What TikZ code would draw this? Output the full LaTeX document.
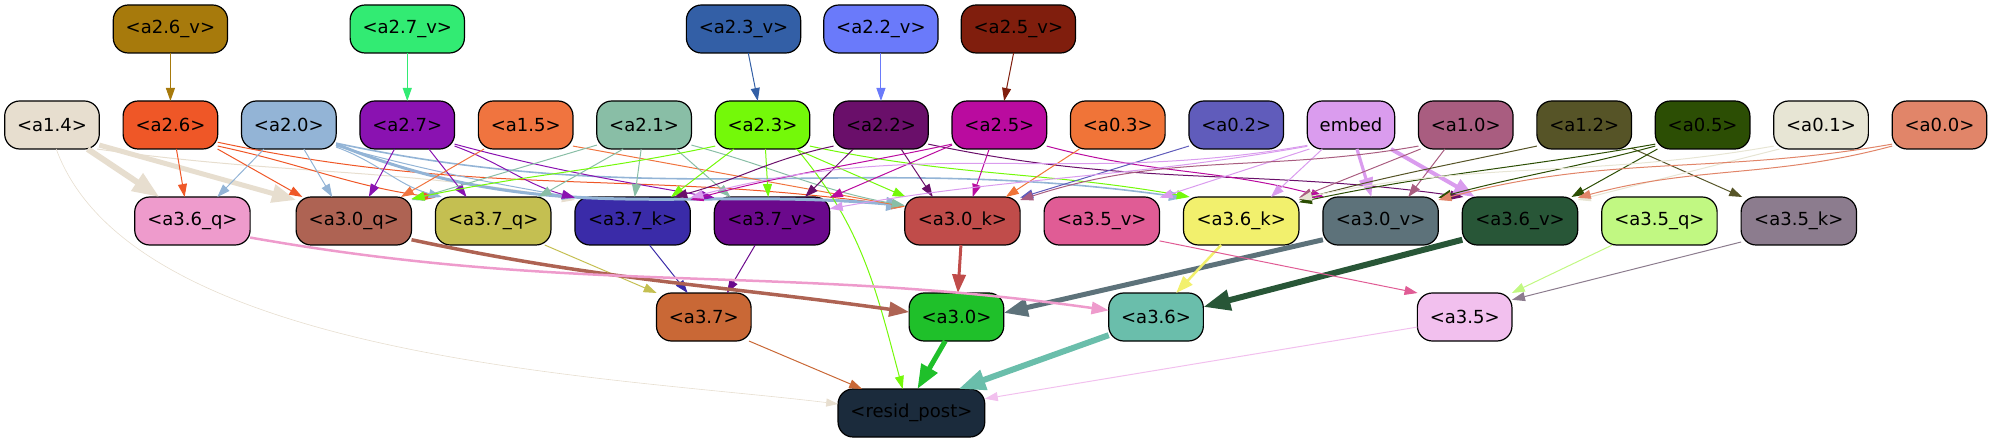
\documentclass[tikz,border=0pt]{standalone}
\usepackage{fontspec}
\setmainfont{DejaVu Sans}
\usepackage{tikz}
\usetikzlibrary{arrows.meta,positioning}

\definecolor{ca26v}{HTML}{A77A0C}
\definecolor{ca27v}{HTML}{32EB73}
\definecolor{ca23v}{HTML}{335FA6}
\definecolor{ca22v}{HTML}{6A7AFA}
\definecolor{ca25v}{HTML}{801E0D}
\definecolor{ca14}{HTML}{E7DECF}
\definecolor{ca26}{HTML}{EF5727}
\definecolor{ca20}{HTML}{93B4D6}
\definecolor{ca27}{HTML}{8A12B1}
\definecolor{ca15}{HTML}{F0743F}
\definecolor{ca21}{HTML}{89BEA6}
\definecolor{ca23}{HTML}{74F909}
\definecolor{ca22}{HTML}{6A0F6A}
\definecolor{ca25}{HTML}{BA0B9F}
\definecolor{ca03}{HTML}{F07438}
\definecolor{ca02}{HTML}{605CBB}
\definecolor{cemb}{HTML}{DA9CEE}
\definecolor{ca10}{HTML}{A95D80}
\definecolor{ca12}{HTML}{565427}
\definecolor{ca05}{HTML}{2C4E04}
\definecolor{ca01}{HTML}{E7E5D4}
\definecolor{ca00}{HTML}{E18569}
\definecolor{ca36q}{HTML}{EE9BCC}
\definecolor{ca30q}{HTML}{AE6353}
\definecolor{ca37q}{HTML}{C4BF51}
\definecolor{ca37k}{HTML}{3A2BA8}
\definecolor{ca37v}{HTML}{6B098C}
\definecolor{ca30k}{HTML}{C04C4A}
\definecolor{ca35v}{HTML}{E05C95}
\definecolor{ca36k}{HTML}{F2F06D}
\definecolor{ca30v}{HTML}{5D727A}
\definecolor{ca36v}{HTML}{285637}
\definecolor{ca35q}{HTML}{C1F882}
\definecolor{ca35k}{HTML}{8C7C8E}
\definecolor{ca37}{HTML}{C96836}
\definecolor{ca30}{HTML}{1FC02A}
\definecolor{ca36}{HTML}{6ABEAB}
\definecolor{ca35}{HTML}{F2C0EE}
\definecolor{cres}{HTML}{1B2B3C}

\begin{document}
\begin{tikzpicture}[->, >={Triangle[length=5.1pt 2.8,width=3.4pt 2.2]}, x=0.5pt, y=-0.5pt, line width=0.5pt]
    \tikzstyle{blk}=[draw=black, line width=0.6pt, outer sep=0pt, rounded corners=7.5pt, minimum height=24pt, inner xsep=6.2pt, text=black, font=\fontsize{9}{10}\selectfont]
    \tikzstyle{wblk}=[blk, minimum width=57.7pt]
    \useasboundingbox (0,0) rectangle (1996,443);
    % row 2
    \node[blk, fill=ca14]  (a14) at (52,125)           {<a1.4>};
    \node[blk, fill=ca26]  (a26) [right=11.9pt of a14]   {<a2.6>};
    \node[blk, fill=ca20]  (a20) [right=11.9pt of a26]   {<a2.0>};
    \node[blk, fill=ca27]  (a27) [right=11.9pt of a20]   {<a2.7>};
    \node[blk, fill=ca15]  (a15) [right=11.9pt of a27]   {<a1.5>};
    \node[blk, fill=ca21]  (a21) [right=11.9pt of a15]   {<a2.1>};
    \node[blk, fill=ca23]  (a23) [right=11.9pt of a21]   {<a2.3>};
    \node[blk, fill=ca22]  (a22) [right=11.9pt of a23]   {<a2.2>};
    \node[blk, fill=ca25]  (a25) [right=11.9pt of a22]   {<a2.5>};
    \node[blk, fill=ca03]  (a03) [right=11.9pt of a25]   {<a0.3>};
    \node[blk, fill=ca02]  (a02) [right=11.9pt of a03]   {<a0.2>};
    \node[blk, fill=cemb]  (emb) [right=11.9pt of a02]   {embed};
    \node[blk, fill=ca10]  (a10) [right=11.9pt of emb]   {<a1.0>};
    \node[blk, fill=ca12]  (a12) [right=11.9pt of a10]   {<a1.2>};
    \node[blk, fill=ca05]  (a05) [right=11.9pt of a12]   {<a0.5>};
    \node[blk, fill=ca01]  (a01) [right=11.9pt of a05]   {<a0.1>};
    \node[blk, fill=ca00]  (a00) [right=11.9pt of a01]   {<a0.0>};
    % row 1
    \node[blk, fill=ca26v] (a26v) [above=24pt of a26]               {<a2.6\_v>};
    \node[blk, fill=ca27v] (a27v) [above=24pt of a27]               {<a2.7\_v>};
    \node[blk, fill=ca23v] (a23v) [above=24pt of a23, xshift=-9.5pt] {<a2.3\_v>};
    \node[blk, fill=ca22v] (a22v) [above=24pt of a22]               {<a2.2\_v>};
    \node[blk, fill=ca25v] (a25v) [above=24pt of a25, xshift=9.5pt]  {<a2.5\_v>};
    % row 3
    \node[wblk, fill=ca36q] (a36q) [below=24pt of a26, xshift=11pt] {<a3.6\_q>};
    \node[wblk, fill=ca30q] (a30q) [right=23pt of a36q]   {<a3.0\_q>};
    \node[wblk, fill=ca37q] (a37q) [right=12pt of a30q]   {<a3.7\_q>};
    \node[wblk, fill=ca37k] (a37k) [right=12pt of a37q]   {<a3.7\_k>};
    \node[wblk, fill=ca37v] (a37v) [right=12pt of a37k]   {<a3.7\_v>};
    \node[wblk, fill=ca30k] (a30k) [right=37.5pt of a37v] {<a3.0\_k>};
    \node[wblk, fill=ca35v] (a35v) [right=12pt of a30k]   {<a3.5\_v>};
    \node[wblk, fill=ca36k] (a36k) [right=12pt of a35v]   {<a3.6\_k>};
    \node[wblk, fill=ca30v] (a30v) [right=12pt of a36k]   {<a3.0\_v>};
    \node[wblk, fill=ca36v] (a36v) [right=12pt of a30v]   {<a3.6\_v>};
    \node[wblk, fill=ca35q] (a35q) [right=12pt of a36v]   {<a3.5\_q>};
    \node[wblk, fill=ca35k] (a35k) [right=12pt of a35q]   {<a3.5\_k>};
    % row 4
    \node[blk, fill=ca30] (a30) [below=24pt of a30k, xshift=-3pt] {<a3.0>};
    \node[blk, fill=ca37] (a37) [left=79pt of a30]    {<a3.7>};
    \node[blk, fill=ca36] (a36) [right=52.5pt of a30] {<a3.6>};
    \node[blk, fill=ca35] (a35) [right=107pt of a36]  {<a3.5>};
    % output
    \node[blk, fill=cres] (res) [below=24pt of a30, xshift=-22.5pt] {<resid\_post>};

    \path
    (a26v) edge[ca26v] (a26)
    (a27v) edge[ca27v] (a27)
    (a23v) edge[ca23v] (a23)
    (a22v) edge[ca22v] (a22)
    (a25v) edge[ca25v] (a25)
    % a1.4
    (a14.-34) edge[ca14, line width=3pt] (a36q.144)
    (a14.-23) edge[ca14, line width=2.5pt] (a30q.160)
    (a14.-28) edge[ca14, out=-8, in=170] (a37k.160)
    (a14.-80) edge[ca14, line width=0.3pt, out=-70, in=173, looseness=0.7] (res.173)
    % a2.6
    (a26.-76) edge[ca26] (a36q.108)
    (a26.-27) edge[ca26] (a30q.155)
    (a26.-24) edge[ca26, out=-12, in=172] (a37q.158)
    (a26.-20) edge[ca26, out=-12, in=172] (a30k.166)
    % a2.0
    (a20.-136) edge[ca20] (a36q.44)
    (a20.-58) edge[ca20] (a30q.132)
    (a20.-25) edge[ca20, out=-20, in=165] (a37q.155)
    (a20.-24) edge[ca20, out=-15, in=170] (a37k.158)
    (a20.-22) edge[ca20, line width=1.5pt, out=-22, in=175] (a30k.165)
    (a20.-21) edge[ca20, line width=0.8pt, out=-12, in=172] (a36k.158)
    % a2.7
    (a27.-118) edge[ca27] (a30q.58)
    (a27.-48) edge[ca27] (a37q.138)
    (a27.-24) edge[ca27, out=-20, in=165] (a37k.158)
    (a27.-22) edge[ca27, out=-15, in=170] (a37v.158)
    % a1.5
    (a15.-150) edge[ca15] (a30q.27)
    (a15.-24) edge[ca15] (a30k.166)
    % a2.1
    (a21.-157) edge[ca21] (a30q.20)
    (a21.-131) edge[ca21] (a37q.28)
    (a21.-97) edge[ca21] (a37k.85)
    (a21.-37) edge[ca21] (a37v.150)
    (a21.-23) edge[ca21, out=-15, in=170] (a30k.165)
    % a2.3
    (a23.-156) edge[ca23, out=-168, in=12] (a30q.21)
    (a23.-140) edge[ca23] (a37k.32)
    (a23.-83) edge[ca23] (a37v.99)
    (a23.-36) edge[ca23] (a30k.157)
    (a23.-24) edge[ca23, out=-12, in=170] (a36k.155)
    (a23.-35) edge[ca23, out=-50, in=105] (res.110)
    % a2.2
    (a22.-156) edge[ca22, out=-168, in=15] (a37k.30)
    (a22.-139) edge[ca22] (a37v.36)
    (a22.-50) edge[ca22] (a30k.141)
    (a22.-22) edge[ca22, out=-12, in=172] (a36v.157)
    % a2.5
    (a25.-158) edge[ca25, out=-168, in=15] (a37k.20)
    (a25.-157) edge[ca25] (a37v.22)
    (a25.-113) edge[ca25] (a30k.67)
    (a25.-24) edge[ca25, out=-15, in=165] (a30v.157)
    % a0.3, a0.2
    (a03.-148) edge[ca03] (a30k.29)
    (a02.-156) edge[ca02] (a30k.22)
    % embed
    (emb.-154) edge[cemb, out=-170, in=10] (a37v.12)
    (emb.-155) edge[cemb, out=-170, in=15] (a37k.22)
    (emb.-150) edge[cemb] (a35v.22)
    (emb.-140) edge[cemb] (a36k.39)
    (emb.-76) edge[cemb, line width=1.6pt] (a30v.111)
    (emb.-31) edge[cemb, line width=2pt] (a36v.152)
    % a1.0
    (a10.-156) edge[ca10, out=-170, in=18] (a30k.20)
    (a10.-152) edge[ca10] (a36k.22)
    (a10.-131) edge[ca10] (a30v.41)
    % a1.2
    (a12.-156) edge[ca12, out=-168, in=15] (a36k.20)
    (a12.-26) edge[ca12] (a35k.157)
    % a0.5
    (a05.-152) edge[ca05] (a36v.25)
    (a05.-156) edge[ca05, out=-165, in=15] (a30v.22)
    (a05.-158) edge[ca05, out=-170, in=12] (a36k.18)
    % a0.1
    (a01.-156) edge[ca01, out=-170, in=12] (a36k.21)
    (a01.-150) edge[ca01] (a36v.20)
    % a0.0
    (a00.-156) edge[ca00, out=-165, in=15] (a36v.22)
    (a00.-158) edge[ca00, out=-170, in=15] (a30v.20)
    % row 3 to row 4
    (a37q.-25) edge[ca37q] (a37.153)
    (a37k.-55) edge[ca37k] (a37.124)
    (a37v.-125) edge[ca37v] (a37.46)
    (a30q.-18) edge[ca30q, line width=1.75pt, out=-12, in=172] (a30.174)
    (a30k) edge[ca30k, line width=1.5pt] (a30)
    (a30v.-162) edge[ca30v, line width=2.5pt] (a30.5)
    (a36q.-16) edge[ca36q, line width=1.25pt, out=-10, in=172] (a36.172)
    (a36k.-130) edge[ca36k, line width=1.25pt] (a36.50)
    (a36v.-162) edge[ca36v, line width=3pt] (a36.12)
    (a35v.-19) edge[ca35v] (a35.153)
    (a35q.-153) edge[ca35q] (a35.27)
    (a35k.-160) edge[ca35k] (a35.20)
    % row 4 to output
    (a37.-28) edge[ca37] (res.154)
    (a30.-115) edge[ca30, line width=2.5pt] (res.76)
    (a36.-159) edge[ca36, line width=3pt] (res.27)
    (a35.-168) edge[ca35] (res.11);
\end{tikzpicture}
\end{document}
